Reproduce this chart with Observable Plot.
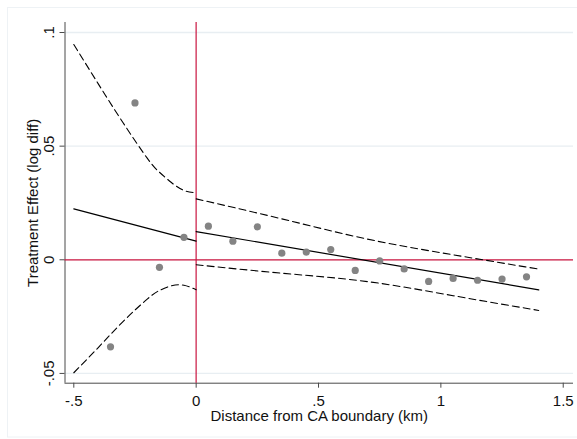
<!DOCTYPE html>
<html>
<head>
<meta charset="utf-8">
<script src="https://cdn.jsdelivr.net/npm/d3@7"></script>
<script src="https://cdn.jsdelivr.net/npm/@observablehq/plot@0.6"></script>
<style>
  html, body { margin: 0; padding: 0; background: #fff; }
  #chart svg { display: block; }
</style>
</head>
<body>
<div id="chart"></div>
<script>
// ---- data ----
const binX = [-0.35, -0.25, -0.15, -0.05, 0.05, 0.15, 0.25, 0.35, 0.45, 0.55, 0.65, 0.75, 0.85, 0.95, 1.05, 1.15, 1.25, 1.35];
const binY = [-0.0383, 0.0690, -0.0033, 0.0099, 0.0148, 0.0082, 0.0145, 0.0029, 0.0034, 0.0045, -0.0047, -0.0005, -0.0040, -0.0095, -0.0082, -0.0090, -0.0085, -0.0075];

const fitLeftX = [-0.5, 0];
const fitLeftY = [0.0224, 0.0082];
const fitRightX = [0, 1.4];
const fitRightY = [0.0124, -0.0132];

const ciLeftX = [-0.5, -0.4, -0.3, -0.2, -0.15, -0.1, -0.05, 0];
const ciLeftHi = [0.0947, 0.0774, 0.0605, 0.0447, 0.0385, 0.0339, 0.0305, 0.0295];
const ciLeftLo = [-0.0497, -0.0386, -0.0273, -0.0173, -0.0135, -0.0114, -0.0112, -0.0132];

const ciRightX = [0, 0.35, 0.7, 1.05, 1.4];
const ciRightHi = [0.0268, 0.0180, 0.0091, 0.0022, -0.0041];
const ciRightLo = [-0.0022, -0.0059, -0.0096, -0.0158, -0.0223];

const xTicks = [-0.5, 0, 0.5, 1, 1.5];
const xTickLabels = ["-.5", "0", ".5", "1", "1.5"];
const yTicks = [-0.05, 0, 0.05, 0.1];
const yTickLabels = ["-.05", "0", ".05", ".1"];
const yGrid = [-0.05, 0.05, 0.1];

const xLabel = "Distance from CA boundary (km)";
const yLabel = "Treatment Effect (log diff)";

// ---- build tables ----
const pts = binX.map((x, i) => ({x, y: binY[i]}));
const mk = (xs, ys) => xs.map((x, i) => ({x, y: ys[i]}));
const xMin = -0.536, xMax = 1.542, yMin = -0.0543, yMax = 0.1044;

const font = "'Liberation Sans', Arial, Helvetica, sans-serif";
const axisColor = "#4a4a4a";
const red = "#c8143f";

const plot = Plot.plot({
  width: 577,
  height: 439,
  marginLeft: 64.5,
  marginRight: 4,
  marginTop: 22,
  marginBottom: 56.3,
  style: {fontFamily: font, fontSize: "15px", color: "#111", background: "#fff"},
  x: {domain: [xMin, xMax], label: null},
  y: {domain: [yMin, yMax], label: null},
  marks: [
    Plot.ruleY(yGrid, {stroke: "#e8eef2", strokeWidth: 1.3}),
    Plot.axisX({ticks: xTicks, tickSize: 5, tickPadding: 7, tickFormat: (d) => xTickLabels[xTicks.indexOf(d)], fontSize: 15, stroke: axisColor, label: null}),
    Plot.axisY({ticks: yTicks, tickSize: 5, tickFormat: () => "", stroke: axisColor, label: null}),
    Plot.text(yTicks, {x: xMin, y: (d) => d, text: (d) => yTickLabels[yTicks.indexOf(d)], rotate: -90, dx: -11, textAnchor: "middle", lineAnchor: "bottom", fontSize: 15}),
    Plot.text([yLabel], {frameAnchor: "left", rotate: -90, dx: -27.5, textAnchor: "middle", lineAnchor: "bottom", fontSize: 15}),
    Plot.text([xLabel], {frameAnchor: "bottom", dy: 38, lineAnchor: "bottom", fontSize: 15}),
    Plot.ruleX([xMin], {stroke: axisColor, strokeWidth: 1}),
    Plot.ruleY([yMin], {stroke: axisColor, strokeWidth: 1}),
    Plot.ruleY([0], {stroke: red, strokeWidth: 1.2}),
    Plot.ruleX([0], {stroke: red, strokeWidth: 1.6, strokeOpacity: 0.75}),
    Plot.line(mk(ciLeftX, ciLeftHi), {x: "x", y: "y", stroke: "black", strokeWidth: 1.1, strokeDasharray: "7,4", curve: "natural"}),
    Plot.line(mk(ciLeftX, ciLeftLo), {x: "x", y: "y", stroke: "black", strokeWidth: 1.1, strokeDasharray: "7,4", curve: "natural"}),
    Plot.line(mk(ciRightX, ciRightHi), {x: "x", y: "y", stroke: "black", strokeWidth: 1.1, strokeDasharray: "7,4", curve: "natural"}),
    Plot.line(mk(ciRightX, ciRightLo), {x: "x", y: "y", stroke: "black", strokeWidth: 1.1, strokeDasharray: "7,4", curve: "natural"}),
    Plot.line(mk(fitLeftX, fitLeftY), {x: "x", y: "y", stroke: "black", strokeWidth: 1.2}),
    Plot.line(mk(fitRightX, fitRightY), {x: "x", y: "y", stroke: "black", strokeWidth: 1.2}),
    Plot.dot(pts, {x: "x", y: "y", r: 3.6, fill: "#848484", stroke: "none"})
  ]
});

// faint outer graph-region border
d3.select(plot).insert("rect", ":first-child")
  .attr("x", 7.5).attr("y", 7.5).attr("width", 575).attr("height", 429.5)
  .attr("fill", "none").attr("stroke", "#eef2f5").attr("stroke-width", 1);

document.getElementById("chart").appendChild(plot);
</script>
</body>
</html>
